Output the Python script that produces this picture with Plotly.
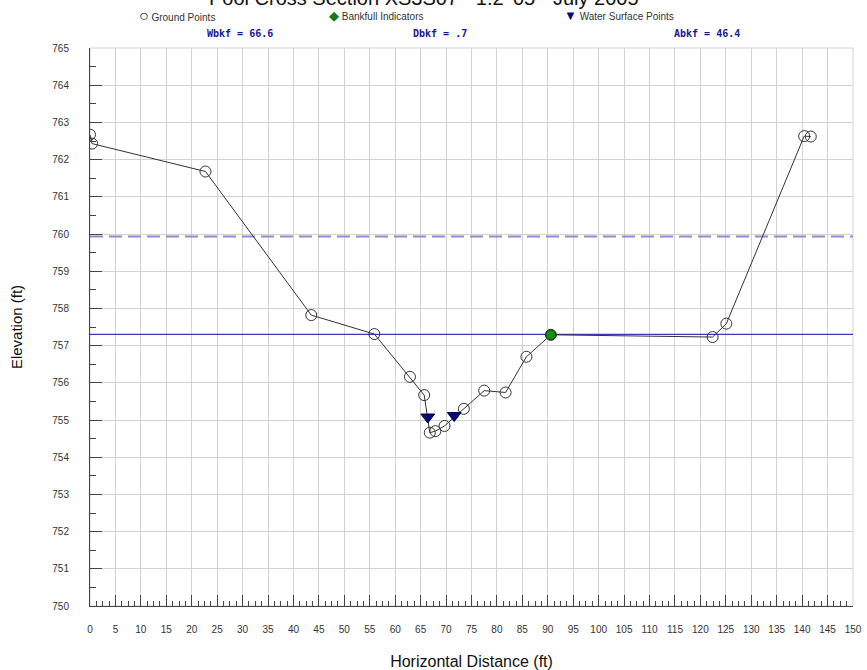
import plotly.graph_objects as go

# Ground survey points (station ft, elevation ft)
ground_x = [0.0, 0.4, 22.7, 43.5, 55.9, 62.9, 65.7, 66.8, 67.9, 69.7, 73.5, 77.5, 81.7, 85.8, 90.6, 122.4, 125.1, 140.4, 141.7]
ground_y = [762.67, 762.43, 761.68, 757.82, 757.31, 756.16, 755.67, 754.66, 754.70, 754.84, 755.30, 755.79, 755.74, 756.70, 757.29, 757.23, 757.59, 762.63, 762.62]

# Bankfull indicator
bkf_x = [90.6]
bkf_y = [757.29]

# Water surface points
ws_x = [66.4, 71.6]
ws_y = [755.08, 755.12]

bankfull_elev = 757.30
floodprone_elev = 759.93

x_ticks = list(range(0, 151, 5))
y_ticks = list(range(750, 766, 1))

title_text = "Pool Cross Section XS3S07 - 1.2 '05 - July 2005"
stats = [("Wbkf = 66.6", 240), ("Dbkf = .7", 440), ("Abkf = 46.4", 707)]
legend_items = [("○", "#222222", 16, "Ground Points", 137),
                ("◆", "#157a15", 13, "Bankfull Indicators", 327),
                ("▼", "#0a0a78", 13, "Water Surface Points", 562)]

W, H = 867, 670
L, R, T, B = 90, 14, 48, 64
pw, ph = W - L - R, H - T - B

def px_x(p):
    return (p - L) / pw

def px_y(p):
    return (H - B - p) / ph

FONT = "Arial, Liberation Sans, sans-serif"

fig = go.Figure()

# Flood-prone and bankfull lines
fig.add_trace(go.Scatter(x=[0, 150], y=[floodprone_elev] * 2, mode="lines",
                         line=dict(color="#8c8cd2", width=2, dash="13px,6px"),
                         hoverinfo="skip"))
fig.add_trace(go.Scatter(x=[0, 150], y=[bankfull_elev] * 2, mode="lines",
                         line=dict(color="#3a3ab8", width=1.2),
                         hoverinfo="skip"))

# Ground line + points
fig.add_trace(go.Scatter(x=ground_x, y=ground_y, mode="lines+markers", name="Ground Points",
                         line=dict(color="#333333", width=1),
                         marker=dict(symbol="circle-open", size=11, color="#333333",
                                     line=dict(width=1, color="#333333"))))
# Water surface
fig.add_trace(go.Scatter(x=ws_x, y=ws_y, mode="markers", name="Water Surface Points",
                         marker=dict(symbol="triangle-down", size=12, color="#0a0a78",
                                     line=dict(width=1, color="#000040"))))
# Bankfull indicator
fig.add_trace(go.Scatter(x=bkf_x, y=bkf_y, mode="markers", name="Bankfull Indicators",
                         marker=dict(symbol="circle", size=10, color="#1a8a1a",
                                     line=dict(width=1, color="#004000"))))

fig.update_layout(
    width=W, height=H,
    margin=dict(l=L, r=R, t=T, b=B, autoexpand=False),
    plot_bgcolor="white", paper_bgcolor="white",
    showlegend=False,
    xaxis=dict(range=[0, 150], tickvals=x_ticks, ticktext=[str(v) for v in x_ticks],
               showgrid=True, gridcolor="#d2d2d2", gridwidth=1,
               ticks="inside", ticklen=11, tickcolor="#444444", tickwidth=1,
               minor=dict(dtick=1.25, ticks="inside", ticklen=5, tickcolor="#444444", showgrid=False),
               showline=True, linecolor="#444444", linewidth=1, zeroline=False,
               ticklabelstandoff=14, automargin=False,
               tickfont=dict(family=FONT, size=10, color="#333333"),
               title=dict(text="Horizontal Distance (ft)", standoff=22,
                          font=dict(family=FONT, size=16, color="#111111"))),
    yaxis=dict(range=[750, 765], tickvals=y_ticks, ticktext=[str(v) for v in y_ticks],
               showgrid=True, gridcolor="#d2d2d2", gridwidth=1,
               ticks="inside", ticklen=12, tickcolor="#444444", tickwidth=1,
               minor=dict(dtick=0.5, ticks="inside", ticklen=6, tickcolor="#444444", showgrid=False),
               showline=True, linecolor="#444444", linewidth=1, zeroline=False,
               ticklabelstandoff=18, automargin=False,
               tickfont=dict(family=FONT, size=10, color="#333333"),
               title=dict(text="Elevation (ft)", standoff=26,
                          font=dict(family=FONT, size=15, color="#111111"))),
)

# top/right border as light grid lines
fig.add_shape(type="rect", xref="paper", yref="paper", x0=0, y0=0, x1=1, y1=1,
              line=dict(color="#d2d2d2", width=1), layer="below")

fig.add_annotation(text=title_text, xref="paper", yref="paper",
                   x=px_x(424), y=px_y(-2), xanchor="center", yanchor="middle",
                   showarrow=False, font=dict(family=FONT, size=20, color="#111111"))

for txt, cx in stats:
    fig.add_annotation(text="<b>" + txt + "</b>", xref="paper", yref="paper",
                       x=px_x(cx), y=px_y(33), xanchor="center", yanchor="middle",
                       showarrow=False,
                       font=dict(family="DejaVu Sans Mono", size=10, color="#1a1a8c"))

for sym, col, ssize, label, lx in legend_items:
    fig.add_annotation(
        text=f"<span style='color:{col};font-size:{ssize}px'>{sym}</span> {label}",
        xref="paper", yref="paper", x=px_x(lx), y=px_y(16),
        xanchor="left", yanchor="middle", showarrow=False,
        font=dict(family=FONT, size=10, color="#333333"))

fig.write_html("out.html")
